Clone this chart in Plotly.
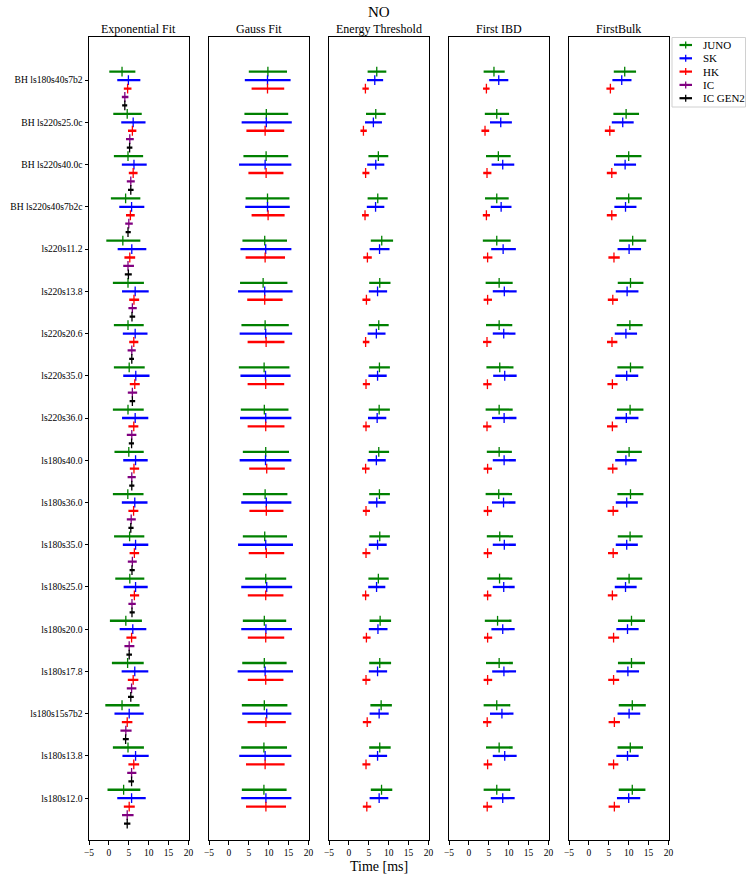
import plotly.graph_objects as go

categories = ["BH ls180s40s7b2", "BH ls220s25.0c", "BH ls220s40.0c", "BH ls220s40s7b2c",
              "ls220s11.2", "ls220s13.8", "ls220s20.6", "ls220s35.0", "ls220s36.0",
              "ls180s40.0", "ls180s36.0", "ls180s35.0", "ls180s25.0", "ls180s20.0",
              "ls180s17.8", "ls180s15s7b2", "ls180s13.8", "ls180s12.0"]
panel_titles = ["Exponential Fit", "Gauss Fit", "Energy Threshold", "First IBD", "FirstBulk"]
detectors = ["JUNO", "SK", "HK", "IC", "IC GEN2"]
x_ticks = [-5, 0, 5, 10, 15, 20]

# ---- Exponential Fit ----
exp_juno_c = [3.3, 4.6, 4.8, 4.2, 3.5, 4.8, 4.8, 5.1, 4.8, 5.0, 4.75, 5.2, 5.25, 4.25, 4.7, 3.3, 4.8, 3.7]
exp_juno_lo = [0.1, 1.1, 1.25, 0.5, -0.65, 1.0, 1.25, 1.25, 1.0, 1.4, 1.0, 1.3, 1.6, 0.25, 0.75, -0.9, 1.0, -0.35]
exp_juno_hi = [6.65, 8.25, 8.6, 7.9, 7.9, 8.8, 8.75, 9.0, 8.75, 8.75, 8.7, 8.9, 8.9, 8.3, 8.75, 7.7, 8.8, 7.9]
exp_sk_c = [4.9, 6.1, 6.3, 5.7, 5.75, 6.6, 6.6, 6.75, 6.6, 6.7, 6.5, 6.7, 6.7, 6.0, 6.5, 5.1, 6.7, 5.7]
exp_sk_lo = [2.1, 3.1, 3.25, 2.6, 2.2, 3.3, 3.5, 3.6, 3.3, 3.6, 3.25, 3.5, 3.7, 2.7, 3.2, 1.4, 3.4, 2.1]
exp_sk_hi = [7.9, 9.2, 9.5, 8.9, 9.4, 10.0, 9.7, 10.2, 9.9, 9.75, 9.7, 9.9, 9.75, 9.4, 9.9, 8.75, 10.0, 9.25]
exp_hk_c = [4.7, 5.9, 6.1, 5.4, 5.25, 6.3, 6.25, 6.5, 6.25, 6.3, 6.2, 6.4, 6.4, 5.7, 6.1, 4.6, 6.25, 5.1]
exp_hk_lo = [3.75, 4.8, 5.0, 4.3, 3.9, 5.1, 5.1, 5.25, 4.9, 5.25, 4.9, 5.2, 5.3, 4.4, 4.75, 3.25, 4.9, 3.75]
exp_hk_hi = [5.67, 6.9, 7.2, 6.5, 6.6, 7.6, 7.4, 7.75, 7.4, 7.6, 7.4, 7.6, 7.6, 6.9, 7.4, 5.9, 7.6, 6.5]
exp_ic_c = [4.0, 5.25, 5.5, 5.0, 4.8, 5.9, 5.75, 5.9, 5.75, 5.75, 5.6, 5.9, 5.8, 5.1, 5.7, 4.25, 5.7, 4.6]
exp_ic_lo = [3.25, 4.3, 4.5, 4.1, 3.6, 4.9, 4.7, 4.75, 4.5, 4.7, 4.5, 4.75, 4.9, 3.9, 4.5, 2.9, 4.6, 3.3]
exp_ic_hi = [4.9, 6.25, 6.5, 6.0, 6.3, 7.0, 6.75, 7.1, 6.9, 6.75, 6.75, 7.0, 6.75, 6.4, 6.9, 5.7, 6.9, 6.2]
exp_gen2_c = [4.0, 5.2, 5.5, 4.8, 4.9, 5.8, 5.75, 5.9, 5.7, 5.75, 5.5, 5.8, 5.8, 5.1, 5.5, 4.2, 5.7, 4.6]
exp_gen2_lo = [3.33, 4.5, 4.8, 4.2, 4.0, 5.2, 5.1, 5.2, 5.0, 5.1, 4.9, 5.2, 5.2, 4.4, 4.8, 3.5, 4.9, 3.8]
exp_gen2_hi = [4.6, 5.9, 6.2, 5.5, 5.75, 6.6, 6.3, 6.6, 6.3, 6.4, 6.2, 6.5, 6.5, 5.8, 6.25, 5.0, 6.3, 5.4]

# ---- Gauss Fit ----
gau_juno_c = [9.8, 9.4, 9.35, 9.7, 9.0, 8.6, 9.1, 8.85, 8.9, 9.25, 9.1, 9.0, 9.25, 8.9, 8.9, 8.9, 8.8, 8.8]
gau_juno_lo = [5.0, 3.9, 3.65, 4.2, 3.4, 2.8, 3.15, 2.5, 3.0, 3.5, 3.5, 3.5, 4.1, 3.5, 3.35, 3.25, 3.1, 3.25]
gau_juno_hi = [14.6, 14.9, 14.9, 15.2, 14.6, 14.7, 15.05, 15.2, 14.97, 15.1, 14.7, 14.6, 14.4, 14.4, 14.5, 14.7, 14.6, 14.5]
gau_sk_c = [9.7, 9.4, 9.1, 9.7, 9.25, 9.0, 9.25, 9.2, 9.25, 9.2, 9.4, 9.25, 9.5, 9.3, 9.1, 9.5, 9.1, 9.3]
gau_sk_lo = [4.0, 3.2, 2.55, 4.1, 2.9, 2.3, 2.7, 2.9, 2.8, 2.7, 3.1, 2.3, 3.1, 3.1, 2.2, 3.35, 2.6, 3.1]
gau_sk_hi = [15.5, 15.8, 15.7, 15.3, 15.7, 16.0, 15.9, 15.5, 15.7, 15.7, 15.7, 16.1, 15.9, 15.85, 16.1, 15.7, 15.7, 15.7]
gau_hk_c = [9.7, 9.1, 9.35, 9.85, 9.1, 9.0, 9.35, 9.25, 9.25, 9.5, 9.4, 9.4, 9.25, 9.25, 9.25, 9.3, 9.1, 9.3]
gau_hk_lo = [5.7, 4.4, 4.9, 5.7, 4.2, 4.6, 4.7, 4.7, 4.7, 5.1, 5.15, 4.98, 4.75, 4.75, 4.75, 4.7, 4.3, 4.3]
gau_hk_hi = [13.9, 13.9, 13.7, 14.0, 14.1, 13.5, 13.96, 13.9, 13.96, 14.05, 13.7, 13.9, 13.7, 13.9, 13.7, 14.3, 14.0, 14.35]

# ---- Energy Threshold ----
ene_juno_c = [7.0, 6.75, 7.4, 7.25, 8.25, 7.75, 7.5, 7.67, 7.6, 7.5, 7.67, 7.75, 7.4, 7.85, 7.75, 8.1, 7.75, 8.2]
ene_juno_lo = [4.7, 4.3, 4.9, 4.7, 5.5, 5.1, 5.0, 5.1, 5.0, 5.0, 5.1, 5.15, 4.9, 5.2, 5.1, 5.4, 5.1, 5.5]
ene_juno_hi = [9.4, 9.25, 9.9, 9.75, 11.1, 10.45, 10.0, 10.3, 10.3, 10.1, 10.3, 10.3, 10.0, 10.6, 10.6, 10.8, 10.5, 10.9]
ene_sk_c = [6.5, 6.15, 6.75, 6.7, 7.7, 7.2, 6.9, 7.2, 7.1, 6.9, 7.0, 7.2, 6.95, 7.3, 7.2, 7.6, 7.2, 7.6]
ene_sk_lo = [4.55, 4.05, 4.6, 4.5, 5.2, 5.0, 4.7, 4.9, 4.8, 4.7, 4.9, 5.0, 4.85, 5.0, 5.0, 5.2, 5.0, 5.2]
ene_sk_hi = [8.6, 8.3, 8.9, 8.9, 10.2, 9.6, 9.2, 9.5, 9.4, 9.25, 9.25, 9.5, 9.15, 9.7, 9.6, 10.0, 9.6, 9.9]
ene_hk_c = [4.15, 3.65, 4.2, 4.05, 4.65, 4.4, 4.2, 4.3, 4.3, 4.2, 4.3, 4.3, 4.2, 4.4, 4.3, 4.6, 4.3, 4.5]
ene_hk_lo = [3.4, 2.9, 3.4, 3.3, 3.6, 3.4, 3.5, 3.5, 3.5, 3.3, 3.5, 3.4, 3.35, 3.5, 3.4, 3.5, 3.4, 3.5]
ene_hk_hi = [5.0, 4.5, 5.15, 5.0, 5.75, 5.4, 5.15, 5.3, 5.3, 5.2, 5.3, 5.4, 5.1, 5.45, 5.4, 5.6, 5.4, 5.6]

# ---- First IBD ----
ibd_juno_c = [6.3, 7.0, 7.4, 7.0, 7.0, 7.6, 7.6, 7.75, 7.6, 7.6, 7.5, 7.75, 7.7, 7.2, 7.6, 7.0, 7.6, 7.0]
ibd_juno_lo = [3.7, 4.0, 4.3, 4.05, 3.5, 4.2, 4.3, 4.4, 4.2, 4.5, 4.2, 4.5, 4.6, 4.0, 4.3, 3.7, 4.3, 3.7]
ibd_juno_hi = [9.0, 10.1, 10.5, 10.0, 10.5, 11.0, 10.9, 11.2, 11.0, 10.8, 10.85, 11.1, 10.9, 10.7, 11.05, 10.4, 11.0, 10.4]
ibd_sk_c = [7.5, 8.0, 8.5, 8.1, 8.6, 8.9, 8.75, 9.0, 8.85, 8.85, 8.7, 8.9, 8.75, 8.5, 8.8, 8.3, 9.0, 8.5]
ibd_sk_lo = [5.1, 5.3, 5.7, 5.5, 5.6, 6.0, 6.0, 6.1, 5.8, 6.0, 5.8, 6.0, 6.0, 5.65, 5.85, 5.3, 6.0, 5.5]
ibd_sk_hi = [9.9, 10.8, 11.4, 10.7, 11.8, 12.0, 11.7, 12.0, 11.95, 11.8, 11.7, 11.8, 11.5, 11.5, 11.85, 11.2, 12.0, 11.5]
ibd_hk_c = [4.4, 4.05, 4.55, 4.4, 4.7, 4.7, 4.55, 4.65, 4.55, 4.7, 4.7, 4.7, 4.7, 4.7, 4.7, 4.6, 4.7, 4.6]
ibd_hk_lo = [3.55, 3.15, 3.6, 3.5, 3.55, 3.7, 3.55, 3.6, 3.55, 3.7, 3.7, 3.7, 3.7, 3.8, 3.7, 3.55, 3.7, 3.55]
ibd_hk_hi = [5.2, 5.1, 5.65, 5.3, 5.9, 5.8, 5.65, 5.7, 5.65, 5.8, 5.8, 5.8, 5.65, 5.85, 5.85, 5.65, 5.85, 5.85]

# ---- FirstBulk ----
blk_juno_c = [9.0, 9.35, 10.0, 10.0, 11.0, 10.45, 10.3, 10.45, 10.35, 10.1, 10.45, 10.35, 10.1, 10.7, 10.7, 10.9, 10.4, 10.9]
blk_juno_lo = [6.25, 6.15, 6.8, 6.8, 7.6, 7.25, 7.0, 7.15, 7.05, 7.0, 7.15, 7.25, 7.0, 7.3, 7.3, 7.5, 7.2, 7.5]
blk_juno_hi = [11.85, 12.6, 13.2, 13.3, 14.4, 13.7, 13.5, 13.7, 13.7, 13.3, 13.7, 13.5, 13.4, 14.1, 14.1, 14.3, 13.6, 14.2]
blk_sk_c = [8.25, 8.5, 9.1, 9.2, 10.1, 9.6, 9.3, 9.5, 9.4, 9.3, 9.5, 9.5, 9.2, 9.7, 9.8, 10.1, 9.7, 10.0]
blk_sk_lo = [5.9, 5.75, 6.3, 6.4, 7.2, 6.75, 6.5, 6.65, 6.6, 6.6, 6.75, 6.75, 6.5, 6.9, 6.9, 7.2, 6.9, 7.05]
blk_sk_hi = [10.7, 11.25, 11.85, 11.95, 13.1, 12.45, 12.1, 12.4, 12.45, 12.0, 12.3, 12.3, 12.0, 12.5, 12.6, 12.9, 12.5, 12.9]
blk_hk_c = [5.4, 5.25, 5.75, 5.75, 6.3, 6.0, 5.8, 5.9, 5.9, 6.0, 6.1, 6.1, 5.9, 6.2, 6.2, 6.4, 6.2, 6.4]
blk_hk_lo = [4.4, 4.0, 4.5, 4.5, 4.9, 4.75, 4.55, 4.65, 4.55, 4.7, 4.7, 4.8, 4.75, 4.85, 4.85, 4.95, 4.85, 4.95]
blk_hk_hi = [6.4, 6.5, 7.0, 7.0, 7.75, 7.3, 7.15, 7.2, 7.2, 7.2, 7.4, 7.3, 7.15, 7.6, 7.6, 7.8, 7.4, 7.8]

panels = [
    [(exp_juno_c, exp_juno_lo, exp_juno_hi), (exp_sk_c, exp_sk_lo, exp_sk_hi),
     (exp_hk_c, exp_hk_lo, exp_hk_hi), (exp_ic_c, exp_ic_lo, exp_ic_hi),
     (exp_gen2_c, exp_gen2_lo, exp_gen2_hi)],
    [(gau_juno_c, gau_juno_lo, gau_juno_hi), (gau_sk_c, gau_sk_lo, gau_sk_hi), (gau_hk_c, gau_hk_lo, gau_hk_hi)],
    [(ene_juno_c, ene_juno_lo, ene_juno_hi), (ene_sk_c, ene_sk_lo, ene_sk_hi), (ene_hk_c, ene_hk_lo, ene_hk_hi)],
    [(ibd_juno_c, ibd_juno_lo, ibd_juno_hi), (ibd_sk_c, ibd_sk_lo, ibd_sk_hi), (ibd_hk_c, ibd_hk_lo, ibd_hk_hi)],
    [(blk_juno_c, blk_juno_lo, blk_juno_hi), (blk_sk_c, blk_sk_lo, blk_sk_hi), (blk_hk_c, blk_hk_lo, blk_hk_hi)],
]

colors = ["green", "blue", "red", "purple", "black"]
offsets = [-0.2, 0.0, 0.2, 0.4, 0.6]

W, H = 747, 883
panel_px = [(89, 188.5), (209, 308.5), (329, 428.5), (449, 548.5), (569, 668.5)]
y_top_px, y_bot_px = 37, 840
FONT = "Liberation Serif"

fig = go.Figure()
for k, pdata in enumerate(panels):
    ax = "" if k == 0 else str(k + 1)
    for d, (c, lo, hi) in enumerate(pdata):
        ys = [i + offsets[d] for i in range(len(categories))]
        fig.add_trace(go.Scatter(
            x=c, y=ys, xaxis="x" + ax, yaxis="y" + ax, mode="markers",
            marker=dict(symbol="line-ns", size=7, color=colors[d],
                        line=dict(color=colors[d], width=1.3)),
            error_x=dict(type="data", symmetric=False,
                         array=[h - v for h, v in zip(hi, c)],
                         arrayminus=[v - l for v, l in zip(c, lo)],
                         thickness=2.3, width=0, color=colors[d]),
            showlegend=False, hoverinfo="skip"))

layout = dict(
    template="none",
    width=W, height=H, margin=dict(l=0, r=0, t=0, b=0, autoexpand=False),
    paper_bgcolor="white", plot_bgcolor="white",
    font=dict(family=FONT, color="black", size=10),
    showlegend=False,
)
ydom = [1 - y_bot_px / H, 1 - y_top_px / H]
for k, (x0, x1) in enumerate(panel_px):
    ax = "" if k == 0 else str(k + 1)
    layout["xaxis" + ax] = dict(
        domain=[x0 / W, x1 / W], anchor="y" + ax, range=[-5, 20],
        tickvals=x_ticks, ticks="outside", ticklen=3.5, tickwidth=0.8,
        tickcolor="black", showline=True, mirror=True, linecolor="black",
        linewidth=1, showgrid=False, zeroline=False, automargin=False,
        tickfont=dict(family=FONT, size=9.5))
    layout["yaxis" + ax] = dict(
        domain=ydom, anchor="x" + ax, range=[17.99, -1.02],
        showline=True, mirror=True, linecolor="black", linewidth=1,
        showgrid=False, zeroline=False, automargin=False,
        tickvals=list(range(len(categories))) if k == 0 else [],
        ticktext=categories if k == 0 else [],
        ticks="outside" if k == 0 else "", ticklen=3.5, tickwidth=0.8,
        tickcolor="black", showticklabels=(k == 0),
        tickfont=dict(family=FONT, size=9.6))
fig.update_layout(**layout)

ann = []
shapes = []
for k, (x0, x1) in enumerate(panel_px):
    ann.append(dict(text=panel_titles[k], x=(x0 + x1) / 2 / W, y=1 - 29 / H,
                    xref="paper", yref="paper", showarrow=False,
                    xanchor="center", yanchor="middle",
                    font=dict(family=FONT, size=12)))
ann.append(dict(text="NO", x=378.5 / W, y=1 - 12 / H, xref="paper", yref="paper",
                showarrow=False, xanchor="center", yanchor="middle",
                font=dict(family=FONT, size=15)))
ann.append(dict(text="Time [ms]", x=378.5 / W, y=1 - 866 / H, xref="paper", yref="paper",
                showarrow=False, xanchor="center", yanchor="middle",
                font=dict(family=FONT, size=14)))

# legend drawn as a framed box with text entries
shapes.append(dict(type="rect", xref="paper", yref="paper",
                   x0=672 / W, x1=745.5 / W, y0=1 - 107 / H, y1=1 - 37.5 / H,
                   line=dict(color="#d0d0d0", width=1), fillcolor="white", layer="above"))
leg_y = [45, 58.3, 71.6, 84.9, 98.2]
for d, name in enumerate(detectors):
    yy = 1 - leg_y[d] / H
    shapes.append(dict(type="line", xref="paper", yref="paper",
                       x0=679.5 / W, x1=692 / W, y0=yy, y1=yy,
                       line=dict(color=colors[d], width=2.2), layer="above"))
    shapes.append(dict(type="line", xref="paper", yref="paper",
                       x0=685.7 / W, x1=685.7 / W, y0=yy - 3.5 / H, y1=yy + 3.5 / H,
                       line=dict(color=colors[d], width=1.3), layer="above"))
    ann.append(dict(text=name, x=701 / W, y=yy, xref="paper", yref="paper",
                    showarrow=False, xanchor="left", yanchor="middle",
                    font=dict(family=FONT, size=11)))
fig.update_layout(annotations=ann, shapes=shapes)

fig.write_html("out.html", config={"displayModeBar": False},
               post_script="document.body.style.margin='0px';document.body.style.overflow='hidden';")
